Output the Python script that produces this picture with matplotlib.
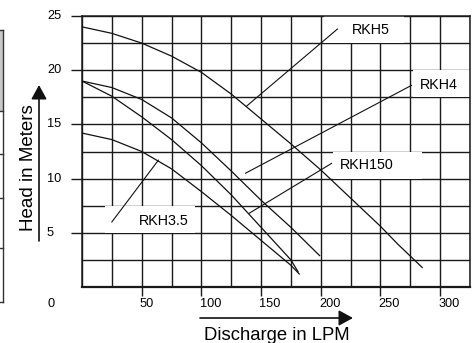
import numpy as np
import matplotlib
matplotlib.use("Agg")
import matplotlib.pyplot as plt
from matplotlib.transforms import blended_transform_factory
from matplotlib.patches import Rectangle, FancyArrowPatch
from matplotlib.lines import Line2D

plt.rcParams['font.family'] = ['Liberation Sans', 'DejaVu Sans']

# ----------------------------
# Pump curves (discharge LPM -> head m)
# ----------------------------
rkh5_q = [0, 25, 50, 75, 100, 125, 150, 175, 200, 225, 250, 265, 285]
rkh5_h = [24.0, 23.4, 22.5, 21.3, 19.8, 17.8, 15.5, 13.2, 10.8, 8.2, 5.6, 3.9, 1.8]

rkh4_q = [0, 25, 50, 75, 100, 125, 150, 175, 199]
rkh4_h = [19.0, 18.4, 17.3, 15.6, 13.3, 10.7, 8.0, 5.5, 2.9]

rkh150_q = [0, 25, 50, 75, 100, 125, 150, 175, 181]
rkh150_h = [19.0, 17.6, 15.7, 13.6, 11.2, 8.5, 5.5, 2.5, 1.4]

rkh35_q = [0, 25, 50, 75, 100, 125, 150, 175, 182]
rkh35_h = [14.2, 13.6, 12.5, 10.9, 8.8, 6.6, 4.3, 2.0, 1.2]

x_ticks = [50, 100, 150, 200, 250, 300]
y_ticks = [5, 10, 15, 20, 25]

# curve names and where their labels / leader lines sit
names = ['RKH5', 'RKH4', 'RKH150', 'RKH3.5']
label_xy = [(226, 23.75), (283, 18.6), (216, 11.25), (48, 6.1)]
leader_a = [(138, 16.7), (137, 10.5), (140, 6.8), (64, 11.7)]
leader_b = [(214, 23.8), (276, 18.6), (209, 11.4), (25, 6.0)]
label_box = [(203, 270, 22.5, 25), (277, 325, 17.5, 20),
             (210, 285, 10, 12.5), (19, 95, 5, 7.5)]

# ----------------------------
# Figure and axis setup (pixel layout of a 474x343 image)
# ----------------------------
W, H = 474, 343
fig = plt.figure(figsize=(W / 100, H / 100), dpi=100)


def fx(px):
    return px / W


def fy(py):
    return 1 - py / H


ax = fig.add_axes([fx(82), fy(287), fx(470) - fx(82), fy(16) - fy(287)])
ax.set_xlim(0, 325)
ax.set_ylim(0, 25)

# grid every 25 LPM / 2.5 m
ax.set_xticks(np.arange(0, 326, 25), minor=True)
ax.set_yticks(np.arange(0, 25.1, 2.5), minor=True)
ax.set_xticks(x_ticks)
ax.set_yticks(y_ticks)
ax.set_xticklabels([])
ax.set_yticklabels([])
ax.grid(which='both', color='#1a1a1a', linewidth=1.0)
ax.set_axisbelow(True)
ax.tick_params(which='minor', length=0)
ax.tick_params(axis='y', which='major', length=7.9, width=1.0, color='#1a1a1a')
ax.tick_params(axis='x', which='major', length=6.5, width=1.0, color='#1a1a1a')
for s in ax.spines.values():
    s.set_color('#1a1a1a')
    s.set_linewidth(1.1)
ax.spines['bottom'].set_linewidth(1.6)

# white patches behind the curve names
for x0, x1, y0, y1 in label_box:
    ax.add_patch(Rectangle((x0, y0), x1 - x0, y1 - y0, facecolor='white',
                           edgecolor='none', zorder=2))

# curves
for q, h in [(rkh5_q, rkh5_h), (rkh4_q, rkh4_h), (rkh150_q, rkh150_h), (rkh35_q, rkh35_h)]:
    ax.plot(q, h, color='#111111', linewidth=0.9, zorder=3)

# leader lines and names
for name, (tx, ty), (ax0, ay0), (bx, by) in zip(names, label_xy, leader_a, leader_b):
    ax.plot([ax0, bx], [ay0, by], color='#111111', linewidth=0.8, zorder=3)
    ax.text(tx, ty, name, fontsize=10.3, ha='left', va='center', zorder=4)

# tick labels, left aligned like the original
ty_tr = blended_transform_factory(fig.transFigure, ax.transData)
for v in y_ticks:
    ax.text(fx(47), v, str(v), transform=ty_tr, fontsize=9.2,
            ha='left', va='center', clip_on=False)
tx_tr = blended_transform_factory(ax.transData, fig.transFigure)
for v in x_ticks:
    ax.text(v - 1.5, fy(304), str(v), transform=tx_tr, fontsize=9.2,
            ha='left', va='center', clip_on=False)
fig.text(fx(48), fy(304), '0', fontsize=9.2, ha='left', va='center')

# axis titles with arrows
fig.text(fx(33), fy(168), 'Head in Meters', fontsize=13.5, rotation=90,
         rotation_mode='anchor', ha='center', va='baseline')
fig.text(fx(277), fy(340), 'Discharge in LPM', fontsize=13.3,
         ha='center', va='baseline')
for p0, p1 in [((39, 241), (39, 85)), ((200, 318), (353, 318))]:
    fig.add_artist(FancyArrowPatch((fx(p0[0]), fy(p0[1])), (fx(p1[0]), fy(p1[1])),
                                   transform=fig.transFigure,
                                   arrowstyle='-|>,head_length=0.86,head_width=0.47',
                                   mutation_scale=10, linewidth=1.2, color='#111111',
                                   shrinkA=0, shrinkB=0))

# partial table box at the left edge
fig.add_artist(Rectangle((0, fy(111)), fx(3), fy(30) - fy(111), transform=fig.transFigure,
                         facecolor='#c8c8c8', edgecolor='none'))
fig.add_artist(Line2D([fx(3), fx(3)], [fy(30), fy(302)], transform=fig.transFigure,
                      color='#333333', linewidth=1.0))
for py in [30, 111, 154, 198, 248, 302]:
    fig.add_artist(Line2D([0, fx(3)], [fy(py), fy(py)], transform=fig.transFigure,
                          color='#333333', linewidth=1.0))

fig.savefig('out.png', dpi=100)
